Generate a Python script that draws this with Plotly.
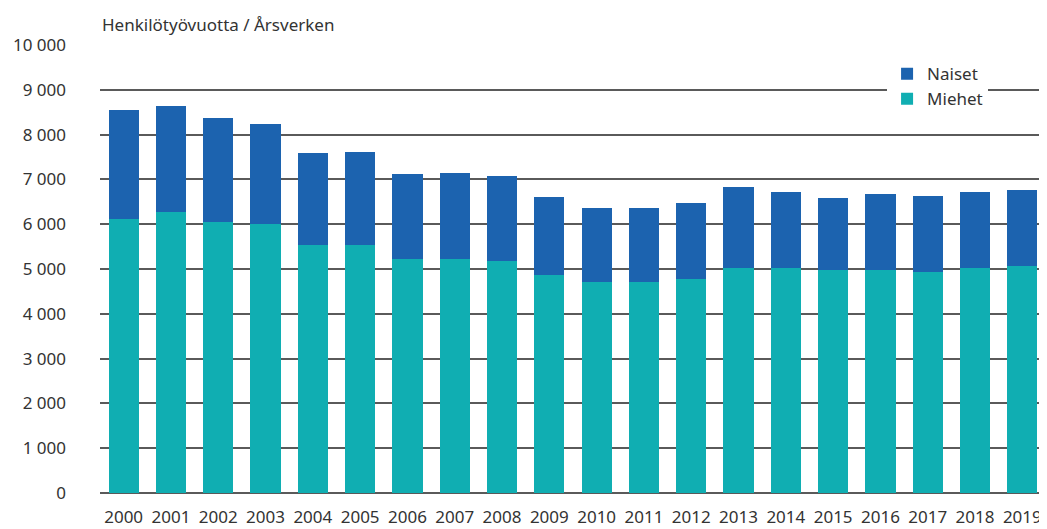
import plotly.graph_objects as go

years = [str(y) for y in range(2000, 2020)]
totals = [8550, 8640, 8370, 8240, 7590, 7610, 7120, 7140, 7080, 6610,
          6360, 6360, 6470, 6830, 6720, 6590, 6670, 6630, 6720, 6760]
miehet = [6110, 6270, 6050, 6000, 5540, 5540, 5220, 5220, 5180, 4870,
          4710, 4710, 4780, 5020, 5020, 4980, 4980, 4930, 5020, 5070]
naiset = [t - m for t, m in zip(totals, miehet)]

FONT = "Noto Sans"
TEXT = "#333333"

fig = go.Figure()
fig.add_trace(go.Bar(x=years, y=miehet, name="Miehet", marker_color="#10aeb2", marker_line_width=0))
fig.add_trace(go.Bar(x=years, y=naiset, name="Naiset", marker_color="#1c63af", marker_line_width=0))

# page body has an 8px margin, so the figure is sized to fit inside the window
fig.update_layout(
    barmode="stack",
    bargap=0.36,
    width=1039,
    height=521,
    plot_bgcolor="white",
    paper_bgcolor="white",
    separators=", ",
    font=dict(family=FONT, size=17, color=TEXT),
    margin=dict(l=92, r=1, t=37, b=36),
    legend=dict(
        x=0.832, y=0.975, xanchor="left", yanchor="top",
        traceorder="reversed", bgcolor="white",
        font=dict(size=17, color=TEXT),
        itemwidth=30, tracegroupgap=0,
    ),
    annotations=[dict(
        text="Henkilötyövuotta / Årsverken", xref="paper", yref="paper",
        x=0, y=1, xanchor="left", yanchor="bottom", yshift=7,
        showarrow=False, font=dict(size=17, color=TEXT),
    )],
)
fig.update_yaxes(
    range=[0, 10000], dtick=1000, tickformat=",d",
    showgrid=True, gridcolor="#5a5a5a", gridwidth=1.5,
    zeroline=True, zerolinecolor="#5a5a5a", zerolinewidth=1.5,
    ticklabelstandoff=33, tickfont=dict(size=17),
)
fig.update_xaxes(
    showgrid=False, tickfont=dict(size=17), ticklabelstandoff=12,
)

fig.write_html("out.html")
